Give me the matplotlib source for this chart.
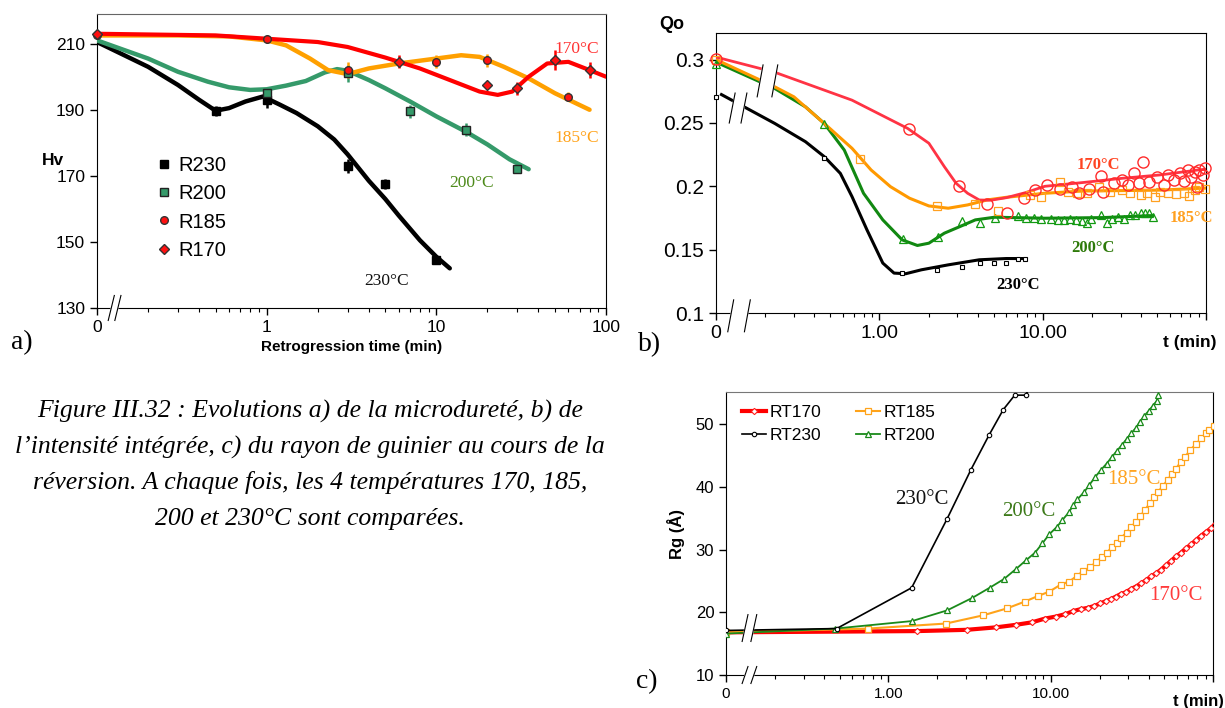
import numpy as np
import matplotlib
matplotlib.use("Agg")
import matplotlib.pyplot as plt
from matplotlib.ticker import FixedLocator, LogLocator, NullFormatter

plt.rcParams['font.family'] = ['Liberation Sans', 'DejaVu Sans']

# ---------------- a) microhardness ----------------
# measured points (time in min, Hv, error)
a230_t = [0.5, 1, 3, 5, 10]
a230_hv = [189.7, 193, 173, 167.5, 144.5]
a230_err = [1.5, 2.5, 2.0, 1.5, 1.2]
a200_t = [1, 3, 7, 15, 30]
a200_hv = [195, 201, 189.5, 184, 172]
a200_err = [1.5, 2.5, 2.0, 2.0, 1.0]
a185_t = [0.1, 1, 3, 10, 20, 60]
a185_hv = [212.5, 211.3, 202, 204.5, 205, 194]
a185_err = [1.0, 1.0, 2.5, 2.0, 2.0, 1.5]
a170_t = [0.1, 6, 20, 30, 50, 80]
a170_hv = [213, 204.5, 197.5, 196.5, 205, 202]
a170_err = [1.0, 2.0, 1.0, 2.0, 3.0, 2.5]

# smoothed trend curves
c230_t = [0.1, 0.2, 0.3, 0.4, 0.5, 0.6, 0.75, 0.95, 1.2, 1.5, 2.0, 2.5, 3, 4, 5, 6, 8, 10, 12]
c230_hv = [210.5, 203, 197.5, 193, 189.7, 190.5, 192.5, 194, 191.5, 189, 185, 181, 176.5, 168.5, 163, 158, 150.5, 145.5, 142]
c200_t = [0.1, 0.2, 0.3, 0.45, 0.6, 0.8, 1.0, 1.3, 1.7, 2.2, 2.6, 3, 4, 5, 7, 10, 15, 20, 27, 35]
c200_hv = [211, 205.5, 201.5, 198.5, 196.8, 196, 196.2, 197.3, 198.7, 201.3, 202.3, 201.8, 199, 196.5, 192.5, 188, 183.3, 179.5, 175, 172]
c185_t = [0.1, 0.3, 0.6, 1.0, 1.3, 1.8, 2.3, 3, 4, 6, 10, 14, 18, 25, 35, 50, 80]
c185_hv = [212.5, 212.5, 212.2, 211, 209.5, 205.5, 202, 200.8, 202.5, 204, 205.5, 206.5, 206, 203, 199.5, 195, 190]
c170_t = [0.1, 0.5, 1, 2, 3, 5, 8, 12, 18, 23, 28, 35, 45, 60, 80, 100]
c170_hv = [213, 212.5, 211.5, 210.5, 209, 205.8, 202.5, 199, 195.5, 194.5, 195.5, 200, 204, 204.5, 202, 200]

# ---------------- b) integrated intensity ----------------
b170_ct = [0.1, 0.229, 0.68, 1.49, 2.01, 2.5, 2.95, 3.47, 4.09, 4.81, 5.98, 7.85, 10.3, 17.7, 30.6, 52.5, 90.7, 100]
b170_cq = [0.302, 0.29, 0.268, 0.2457, 0.234, 0.2155, 0.2024, 0.1945, 0.1892, 0.189, 0.191, 0.195, 0.2, 0.203, 0.2063, 0.209, 0.213, 0.2135]
b185_ct = [0.1, 0.229, 0.3, 0.46, 0.68, 0.89, 1.17, 1.53, 2.01, 2.64, 3.47, 4.55, 5.98, 10.3, 17.7, 30.6, 52.5, 90.7, 100]
b185_cq = [0.3, 0.2785, 0.2706, 0.2496, 0.23, 0.2129, 0.1997, 0.1906, 0.1845, 0.1827, 0.1853, 0.1892, 0.1913, 0.1945, 0.1963, 0.1966, 0.197, 0.1984, 0.1986]
b200_ct = [0.1, 0.229, 0.353, 0.46, 0.61, 0.80, 1.05, 1.38, 1.71, 2.01, 2.5, 3.11, 3.87, 5.08, 10.3, 23.3, 47.2]
b200_cq = [0.298, 0.2772, 0.2627, 0.2496, 0.2286, 0.1945, 0.1735, 0.1577, 0.1533, 0.1551, 0.163, 0.1682, 0.1735, 0.1756, 0.1748, 0.1753, 0.1769]
b230_ct = [0.108, 0.229, 0.353, 0.46, 0.577, 0.68, 0.84, 1.05, 1.23, 1.45, 1.81, 2.64, 4.09, 5.98, 7.85]
b230_cq = [0.2724, 0.2496, 0.2352, 0.2234, 0.2102, 0.1919, 0.1656, 0.1394, 0.1315, 0.131, 0.1341, 0.138, 0.142, 0.143, 0.143]

b230_t = [0.1, 0.46, 1.38, 2.27, 3.2, 4.13, 5.02, 5.98, 7.03, 7.76]
b230_q = [0.2706, 0.222, 0.1315, 0.1336, 0.1367, 0.1394, 0.1394, 0.1394, 0.1428, 0.1428]
b200_t = [0.1, 0.46, 1.39, 2.30, 3.2, 4.13, 5.1, 7.03, 7.85, 8.89, 9.75, 11.2, 12.4, 13.5, 14.7, 15.9, 17.3,
          18.7, 19.8, 22.7, 24.9, 26.7, 29.0, 31.4, 34.1, 37.0, 40.1, 42.4, 44.7, 47.2]
b200_q = [0.2969, 0.249, 0.1583, 0.1596, 0.1727, 0.1709, 0.175, 0.1766, 0.1748, 0.1748, 0.1743, 0.1743, 0.1735,
          0.1735, 0.1743, 0.1735, 0.1727, 0.1709, 0.1743, 0.1774, 0.1714, 0.1743, 0.1756, 0.1743, 0.1774, 0.1774,
          0.1787, 0.1793, 0.1787, 0.1756]
b185_t = [0.1, 0.757, 2.27, 3.83, 5.36, 8.37, 9.75, 12.8, 14.3, 16.3, 18.7, 22.0, 25.9, 30.6, 34.1, 40.1, 43.6,
          48.5, 52.5, 58.7, 65.5, 73.0, 79.2, 86.0, 90.7, 98.4]
b185_q = [0.3, 0.2213, 0.1848, 0.1861, 0.1806, 0.1932, 0.1919, 0.2037, 0.1958, 0.195, 0.195, 0.1997, 0.1958,
          0.1971, 0.1945, 0.1932, 0.195, 0.1919, 0.1958, 0.1945, 0.194, 0.195, 0.1926, 0.1971, 0.1997, 0.1976]
b170_t = [0.1, 1.52, 3.06, 4.55, 6.08, 7.64, 9.0, 10.6, 12.8, 15.1, 16.8, 19.2, 22.7, 23.3, 27.4, 30.6, 33.2,
          36.0, 39.1, 41.2, 44.7, 49.9, 55.6, 58.7, 63.7, 69.2, 73.0, 77.1, 81.3, 86.0, 88.3, 90.7, 95.7, 98.4]
b170_q = [0.3008, 0.2451, 0.2003, 0.1858, 0.1787, 0.1906, 0.1971, 0.201, 0.1979, 0.1992, 0.195, 0.1976, 0.2081,
          0.1958, 0.2024, 0.205, 0.201, 0.2102, 0.2029, 0.2194, 0.2037, 0.2076, 0.201, 0.2089, 0.205, 0.2102,
          0.2045, 0.2129, 0.2076, 0.2116, 0.1997, 0.2129, 0.2089, 0.2142]

# ---------------- c) Guinier radius ----------------
rt230_t = [0.1, 0.48, 1.39, 2.30, 3.22, 4.16, 5.1, 6.0, 7.0, 8.0]
rt230_rg = [17.1, 17.4, 23.9, 34.9, 42.7, 48.2, 52.3, 54.6, 54.6, 57.5]
rt200_t = [0.1, 0.47, 1.40, 2.30, 3.29, 4.2, 5.15, 6.11, 7.05, 8.0, 8.89, 9.77, 10.9, 11.8, 12.9, 13.8, 14.6,
           16.1, 17.3, 18.7, 20.4, 22.1, 23.7, 25.5, 27.3, 29.3, 31.2, 33.5, 35.4, 37.7, 40.1, 42.5, 45.0, 45.6]
rt200_rg = [16.6, 17.4, 18.6, 20.3, 22.3, 23.9, 25.3, 26.9, 28.3, 29.5, 31.0, 32.4, 33.6, 34.7, 35.9, 37.1, 38.0,
            39.2, 40.3, 41.5, 42.7, 43.7, 44.7, 45.7, 46.6, 47.6, 48.5, 49.4, 50.4, 51.3, 52.1, 52.9, 53.7, 54.6]
rt185_t = [0.1, 0.75, 2.26, 3.82, 5.35, 6.92, 8.36, 9.82, 11.5, 13.0, 14.5, 15.9, 17.5, 19.0, 20.7, 22.2, 23.8,
           25.5, 27.2, 29.3, 31.2, 33.5, 35.6, 38.0, 40.8, 43.4, 45.9, 48.9, 52.5, 55.6, 59.1, 63.4, 67.4, 72.4,
           78.5, 84.3, 90.5, 94.9, 101]
rt185_rg = [16.8, 17.4, 18.2, 19.5, 20.6, 21.7, 22.6, 23.3, 24.4, 24.9, 25.8, 26.6, 27.2, 28.0, 28.8, 29.5, 30.4,
            31.1, 31.9, 32.7, 33.6, 34.4, 35.3, 36.3, 37.4, 38.3, 39.2, 40.1, 41.1, 42.0, 42.9, 44.0, 44.8, 45.9,
            46.8, 47.7, 48.5, 49.1, 49.7]
rt170_t = [0.1, 1.5, 3.03, 4.62, 6.11, 7.67, 9.23, 10.7, 12.3, 13.8, 15.3, 16.9, 18.5, 20.2, 21.9, 23.5, 25.2,
           27.0, 29.0, 31.2, 33.5, 36.0, 38.6, 41.4, 44.5, 47.8, 51.3, 55.1, 59.2, 63.4, 68.1, 73.1, 78.5, 84.3,
           90.5, 97.2, 104]
rt170_rg = [16.8, 17.0, 17.2, 17.6, 18.0, 18.4, 19.0, 19.3, 19.7, 20.2, 20.5, 20.7, 21.0, 21.4, 21.8, 22.1, 22.5,
            22.9, 23.2, 23.7, 24.1, 24.6, 25.1, 25.7, 26.2, 26.8, 27.5, 28.2, 28.9, 29.5, 30.2, 30.8, 31.5, 32.2,
            32.8, 33.4, 34.2]

time_ticks = [0.1, 1, 10, 100]

fig = plt.figure(figsize=(12.25, 7.08), dpi=100)
serif = 'Liberation Serif'


def brk(ax, xa, ya, h, gap, w=0.012):
    # axis-break mark: two slanted strokes with white between
    xs = [xa - w / 2, xa + w / 2, xa + gap + w / 2, xa + gap - w / 2]
    ys = [ya - h / 2, ya + h / 2, ya + h / 2, ya - h / 2]
    ax.fill(xs, ys, color='white', transform=ax.transAxes, clip_on=False, zorder=20)
    for dx in (0, gap):
        ax.plot([xa + dx - w / 2, xa + dx + w / 2], [ya - h / 2, ya + h / 2], color='black', lw=0.8,
                transform=ax.transAxes, clip_on=False, zorder=21)


def log_axis(ax, labels, size):
    ax.set_xscale('log')
    ax.set_xlim(0.1, 100)
    ax.xaxis.set_major_locator(FixedLocator(time_ticks))
    ax.xaxis.set_minor_locator(LogLocator(base=10, subs=np.arange(2, 10)))
    ax.xaxis.set_minor_formatter(NullFormatter())
    ax.set_xticklabels(labels, fontsize=size)
    ax.tick_params(which='major', direction='out', length=5, width=1)
    ax.tick_params(which='minor', direction='out', length=3, width=0.8)
    ax.tick_params(axis='y', which='both', right=False)
    ax.tick_params(axis='x', which='both', top=False)


# ---- panel a ----
ax = fig.add_axes([0.0792, 0.565, 0.4155, 0.4153])
ax.plot(c230_t, c230_hv, color='black', lw=3.2, solid_capstyle='round', zorder=3)
ax.plot(c200_t, c200_hv, color='#359a6a', lw=3.2, solid_capstyle='round', zorder=3)
ax.plot(c185_t, c185_hv, color='#ffa000', lw=3.2, solid_capstyle='round', zorder=3)
ax.plot(c170_t, c170_hv, color='#ff0000', lw=3.0, solid_capstyle='round', zorder=3)
ax.errorbar(a230_t, a230_hv, yerr=a230_err, fmt='s', ms=5.5, color='black', ecolor='black',
            elinewidth=1.8, zorder=4)
ax.errorbar(a200_t, a200_hv, yerr=a200_err, fmt='s', ms=5.5, mfc='#359a6a', mec='#222222', ecolor='#359a6a',
            elinewidth=1.8, zorder=4)
ax.errorbar(a185_t, a185_hv, yerr=a185_err, fmt='o', ms=5.5, mfc='#ff1010', mec='#333333', ecolor='#ffa000',
            elinewidth=1.8, zorder=4, clip_on=False)
ax.errorbar(a170_t, a170_hv, yerr=a170_err, fmt='D', ms=5, mfc='#ff1010', mec='#333333', ecolor='#ff0000',
            elinewidth=1.8, zorder=4, clip_on=False)
h1, = ax.plot([], [], 's', ms=5.5, color='black')
h2, = ax.plot([], [], 's', ms=5.5, mfc='#359a6a', mec='#222222')
h3, = ax.plot([], [], 'o', ms=5.5, mfc='#ff1010', mec='#333333')
h4, = ax.plot([], [], 'D', ms=5, mfc='#ff1010', mec='#333333')
ax.legend([h1, h2, h3, h4], ['R230', 'R200', 'R185', 'R170'], loc='center left',
          bbox_to_anchor=(0.085, 0.34), frameon=False, fontsize=14.5, handlelength=0.6,
          handletextpad=0.4, labelspacing=0.45)
log_axis(ax, ['0', '1', '10', '100'], 12.5)
ax.set_ylim(130, 219)
ax.set_yticks([130, 150, 170, 190, 210])
ax.tick_params(axis='y', labelsize=12.5)
ax.spines['top'].set_color('#666666')
ax.set_xlabel('Retrogression time (min)', fontsize=11, fontweight='bold', labelpad=4)
ax.text(-0.086, 0.5, 'Hv', transform=ax.transAxes, fontsize=12.5, fontweight='bold', ha='center', va='center')
ax.text(67, 208.5, '170°C', color='#ff3333', fontsize=12.5, family=serif, ha='center', va='center')
ax.text(67, 181.6, '185°C', color='#ffa31a', fontsize=12.5, family=serif, ha='center', va='center')
ax.text(16.1, 167.7, '200°C', color='#4d8a1a', fontsize=12.5, family=serif, ha='center', va='center')
ax.text(5.06, 138.1, '230°C', color='#111111', fontsize=12.5, family=serif, ha='center', va='center')
brk(ax, 0.028, 0.0, 0.085, 0.013)
fig.text(22 / 1225, 1 - 343 / 708, 'a)', fontsize=20, family=serif, ha='center', va='center')

# ---- panel b ----
bx = fig.add_axes([0.5845, 0.5579, 0.4, 0.3955])
bx.plot(b230_ct, b230_cq, color='black', lw=2.2, zorder=3)
bx.plot(b200_ct, b200_cq, color='#118811', lw=2.2, zorder=3)
bx.plot(b185_ct, b185_cq, color='#ff9900', lw=2.2, zorder=3)
bx.plot(b170_ct, b170_cq, color='#ff3344', lw=2.0, zorder=3)
bx.plot(b230_t, b230_q, 's', ms=3.2, mfc='white', mec='black', mew=0.8, zorder=4, clip_on=False)
bx.plot(b200_t, b200_q, '^', ms=6, mfc='none', mec='#119911', mew=0.9, zorder=4, clip_on=False)
bx.plot(b185_t, b185_q, 's', ms=6, mfc='none', mec='#ffa020', mew=0.9, zorder=4, clip_on=False)
bx.plot(b170_t, b170_q, 'o', ms=8, mfc='none', mec='#ff2a2a', mew=1.0, zorder=4, clip_on=False)
log_axis(bx, ['0', '1.00', '10.00', ''], 14)
bx.set_ylim(0.1, 0.321)
bx.set_yticks([0.1, 0.15, 0.2, 0.25, 0.3])
bx.set_yticklabels(['0.1', '0.15', '0.2', '0.25', '0.3'], fontsize=15)
bx.text(0.967, -0.105, 't (min)', transform=bx.transAxes, fontsize=12.5, fontweight='bold',
        ha='center', va='center')
bx.text(-0.09, 1.03, 'Qo', transform=bx.transAxes, fontsize=13, fontweight='bold', ha='center', va='center')
bx.text(22, 0.217, '170°C', color='#ff4422', fontsize=12, fontweight='bold', family=serif,
        ha='center', va='center')
bx.text(81, 0.175, '185°C', color='#ffa020', fontsize=12, fontweight='bold', family=serif,
        ha='center', va='center')
bx.text(20.3, 0.151, '200°C', color='#2e7a0a', fontsize=12, fontweight='bold', family=serif,
        ha='center', va='center')
bx.text(7.1, 0.1223, '230°C', color='black', fontsize=12, fontweight='bold', family=serif,
        ha='center', va='center')
brk(bx, 0.03, -0.01, 0.114, 0.034)
brk(bx, 0.09, 0.829, 0.114, 0.03)
brk(bx, 0.033, 0.732, 0.107, 0.024)
fig.text(650 / 1225, 1 - 345 / 708, 'b)', fontsize=20, family=serif, ha='center', va='center')

# ---- panel c ----
cx = fig.add_axes([0.5927, 0.0466, 0.3976, 0.3997])
l170, = cx.plot(rt170_t, rt170_rg, '-D', color='#ff0000', lw=3, ms=3.2, mfc='white', mec='#ff2020',
                mew=0.8, zorder=3)
l230, = cx.plot(rt230_t, rt230_rg, '-o', color='black', lw=1.2, ms=3.2, mfc='white', mec='black',
                mew=0.8, zorder=4)
l185, = cx.plot(rt185_t, rt185_rg, '-s', color='#ffa31a', lw=1.5, ms=5, mfc='white', mec='#ffa31a',
                mew=0.9, zorder=3)
l200, = cx.plot(rt200_t, rt200_rg, '-^', color='#1a8a1a', lw=1.3, ms=5, mfc='white', mec='#1a8a1a',
                mew=0.9, zorder=3)
cx.legend([l170, l230, l185, l200], ['RT170', 'RT230', 'RT185', 'RT200'], ncol=2, loc='upper left',
          bbox_to_anchor=(0.0, 1.01), frameon=False, fontsize=12.5, handlelength=1.4, handletextpad=0.2,
          columnspacing=2.0, labelspacing=0.45)
log_axis(cx, ['0', '1.00', '10.00', ''], 11)
cx.set_ylim(10, 55.1)
cx.set_yticks([10, 20, 30, 40, 50])
cx.tick_params(axis='y', labelsize=12)
cx.spines['top'].set_color('#777777')
cx.set_ylabel('Rg (Å)', fontsize=12, fontweight='bold', labelpad=8)
cx.text(0.969, -0.095, 't (min)', transform=cx.transAxes, fontsize=12, fontweight='bold',
        ha='center', va='center')
cx.text(59.2, 22.7, '170°C', color='#ff3b3b', fontsize=15, family=serif, ha='center', va='center')
cx.text(32.7, 41.1, '185°C', color='#ffa320', fontsize=15, family=serif, ha='center', va='center')
cx.text(7.35, 36.0, '200°C', color='#3d7a1a', fontsize=15, family=serif, ha='center', va='center')
cx.text(1.6, 38.0, '230°C', color='#111111', fontsize=15, family=serif, ha='center', va='center')
brk(cx, 0.039, 0.0, 0.06, 0.018)
brk(cx, 0.039, 0.166, 0.095, 0.018)
fig.text(647 / 1225, 1 - 682 / 708, 'c)', fontsize=20, family=serif, ha='center', va='center')

# ---- caption ----
caption = ["Figure III.32 : Evolutions a) de la microdureté, b) de",
           "l’intensité intégrée, c) du rayon de guinier au cours de la",
           "réversion. A chaque fois, les 4 températures 170, 185,",
           "200 et 230°C sont comparées."]
for i, line in enumerate(caption):
    fig.text(310 / 1225, 1 - (411 + 36 * i) / 708, line, fontsize=18.5, family=serif, style='italic',
             ha='center', va='center')

fig.savefig('out.png', dpi=100)
